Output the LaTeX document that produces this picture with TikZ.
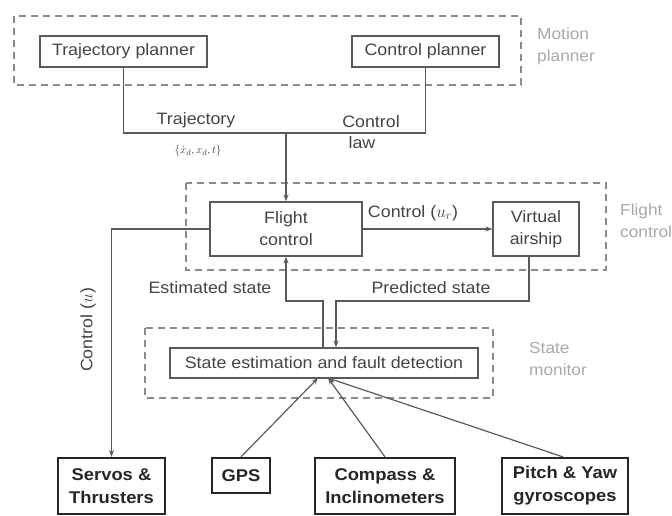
\documentclass[tikz,border=0pt]{standalone}
\usepackage{fontspec}
\setmainfont{Liberation Sans}[FakeStretch=1.08]
\usetikzlibrary{arrows.meta}
\definecolor{ln}{HTML}{5A5A5A}
\definecolor{tx}{HTML}{444444}
\definecolor{grp}{HTML}{A8A8A8}
\definecolor{dsh}{HTML}{8A8A8A}
\tikzset{
  x=1pt, y=-1pt,
  every node/.style={font=\fontsize{16.5}{22}\selectfont, text=tx, align=center, inner sep=0pt},
  plainbox/.style={draw=ln, line width=1.2pt, rectangle},
  boldbox/.style={draw=black!85, line width=2.2pt, rectangle, font=\fontsize{17}{23}\selectfont\bfseries, text=black!85},
  grpbox/.style={draw=dsh, line width=1.4pt, dash pattern=on 7pt off 5pt},
  grplabel/.style={text=grp, align=left, font=\fontsize{16}{22}\selectfont},
  conn/.style={draw=ln, line width=1.2pt},
  arr/.style={conn, -{Stealth[length=7pt,width=5pt]}},
  lbl/.style={text=tx}
}
\begin{document}
\begin{tikzpicture}
\useasboundingbox (0,0) rectangle (672,515);
% group boxes
\draw[grpbox] (14,16) rectangle (521,85);
\draw[grpbox] (186,183) rectangle (606,270);
\draw[grpbox] (145,328) rectangle (493,398);
\node[grplabel, anchor=north west] (gmp) at (537,28) {Motion\\planner};
\node[grplabel, anchor=north west] (gfc) at (620,204) {Flight\\control};
\node[grplabel, anchor=north west] (gsm) at (529,342) {State\\monitor};
% boxes
\node[plainbox, minimum width=167pt, minimum height=31pt] (tp) at (123.5,51.5) {Trajectory planner};
\node[plainbox, minimum width=147pt, minimum height=31pt] (cp) at (425.5,51.5) {Control planner};
\node[plainbox, minimum width=152pt, minimum height=54pt] (fc) at (286,229) {Flight\\control};
\node[plainbox, minimum width=86pt, minimum height=54pt] (va) at (536,229) {Virtual\\airship};
\node[plainbox, minimum width=308pt, minimum height=30pt] (se) at (324,363) {State estimation and fault detection};
\node[boldbox, minimum width=107pt, minimum height=56pt] (sv) at (111.5,486) {Servos \&\\Thrusters};
\node[boldbox, minimum width=58pt, minimum height=35pt] (gps) at (241,475.5) {GPS};
\node[boldbox, minimum width=140pt, minimum height=56pt] (cmp) at (385,486) {Compass \&\\Inclinometers};
\node[boldbox, minimum width=126pt, minimum height=56pt] (py) at (565,486) {Pitch \& Yaw\\gyroscopes};
% coordinates
\coordinate (j) at (286,133);
\coordinate (e1) at (323,301);
\coordinate (p1) at (336,301);
\coordinate (a1) at (318,378);
\coordinate (a2) at (328,378);
% connectors
\draw[conn] (tp.south) |- (cp.south |- j) -- (cp.south);
\draw[arr] (j) -- (fc.north);
\draw[arr] (fc.east) -- (va.west);
\draw[arr] (fc.west) -| (sv.north);
\draw[arr] (se.north -| e1) -- (e1) -| (fc.south);
\draw[arr] ([xshift=-7pt]va.south) |- (p1) -- (se.north -| p1);
\draw[arr] (gps.north) -- (a1);
\draw[arr] (cmp.north) -- (a2);
\draw[arr] ([xshift=-2pt]py.north) -- (a2);
% labels
\node[lbl] (ltr) at (196,120) {Trajectory};
\node[lbl, font=\fontsize{11}{12}\selectfont] (ltr2) at (198,151) {$\{\dot{x}_d,x_d,t\}$};
\node[lbl] (lcl) at (371,122) {Control};
\node[lbl] (lcl2) at (362,143) {law};
\node[lbl] (lcu) at (413,213) {Control ($u_r$)};
\node[lbl, rotate=90] (lcu2) at (88,330) {Control ($u$)};
\node[lbl] (les) at (210,288) {Estimated state};
\node[lbl] (lps) at (431,288) {Predicted state};
\end{tikzpicture}
\end{document}
